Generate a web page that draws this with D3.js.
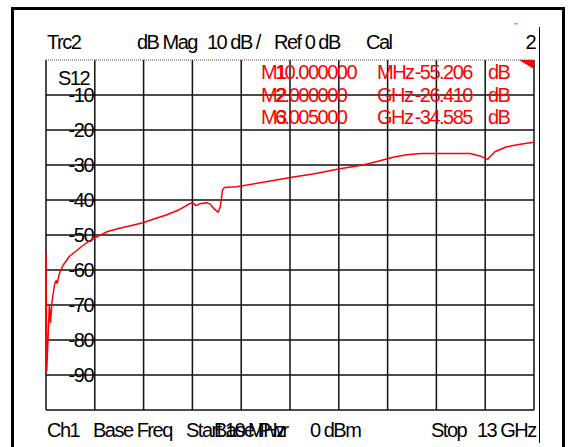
<!DOCTYPE html>
<html>
<head>
<meta charset="utf-8">
<script src="https://cdn.jsdelivr.net/npm/d3@7"></script>
<style>
  body { margin: 0; background: #fff; }
  svg text { font-family: "Liberation Sans", Arial, sans-serif; letter-spacing: -1.5px; }
</style>
</head>
<body>
<div id="chart"></div>
<script>
// trace S12
const freqGHz = [0.01, 0.03, 0.10, 0.13, 0.17, 0.24, 0.28, 0.31, 0.36, 0.46, 0.64, 0.82, 0.99,
  1.17, 1.40, 1.65, 1.97, 2.37, 2.59, 2.86, 3.21, 3.57, 3.84, 3.92, 4.00, 4.10, 4.28, 4.37,
  4.50, 4.59, 4.65, 4.71, 4.76, 5.08, 5.21, 5.79, 6.55, 7.12, 7.83, 8.45, 8.90, 9.25, 9.61,
  10.01, 10.45, 11.30, 11.56, 11.76, 11.96, 12.27, 12.63, 13.00];
const s12dB = [-55.1, -88.8, -70.0, -75.0, -69.0, -64.0, -63.0, -63.8, -61.2, -58.7, -56.0, -54.5, -53.0,
  -51.7, -50.3, -49.0, -48.1, -47.1, -46.5, -45.5, -44.3, -42.7, -41.0, -40.8, -41.6, -41.1, -40.8, -41.1,
  -42.7, -43.5, -41.9, -37.1, -36.4, -36.2, -36.0, -34.9, -33.5, -32.6, -31.1, -30.0, -28.8, -27.8, -27.1,
  -26.7, -26.7, -26.7, -27.4, -28.4, -26.2, -24.8, -24.1, -23.5];

const yTicks = [-10, -20, -30, -40, -50, -60, -70, -80, -90];
const xDivs = [0, 1, 2, 3, 4, 5, 6, 7, 8, 9, 10];

const markerNames = ['M1', 'M2', 'M3'];
const markerFreqs = ['10.000000', '2.000000', '6.005000'];
const markerUnits = ['MHz', 'GHz', 'GHz'];
const markerVals = ['-55.206', '-26.410', '-34.585'];

const svg = d3.select('#chart').append('svg')
    .attr('width', 571)
    .attr('height', 447);

const plotL = 46, plotR = 534, plotT = 60, plotB = 410;
const fs = 20;

const x = d3.scaleLinear().domain([0.01, 13]).range([plotL, plotR]);
const y = d3.scaleLinear().domain([-100, 0]).range([plotB, plotT]);
const xDiv = d3.scaleLinear().domain([0, 10]).range([plotL, plotR]);

// outer frame
svg.append('rect')
    .attr('x', 12.5).attr('y', 8.5)
    .attr('width', 551).attr('height', 460)
    .attr('fill', 'none')
    .attr('stroke', '#000')
    .attr('stroke-width', 3);

svg.append('line')
    .attr('x1', 539.5).attr('x2', 539.5)
    .attr('y1', 27).attr('y2', 443)
    .attr('stroke', '#000').attr('stroke-width', 1);

svg.append('rect')
    .attr('x', 514).attr('y', 23).attr('width', 4).attr('height', 1.5)
    .attr('fill', '#6bc4e8');

// grid
const grid = svg.append('g');
grid.selectAll('.vl').data(xDivs).enter().append('line')
    .attr('x1', d => xDiv(d)).attr('x2', d => xDiv(d))
    .attr('y1', plotT).attr('y2', plotB)
    .attr('stroke', '#111').attr('stroke-width', 1.5);

grid.selectAll('.hl').data(yTicks.concat([-100])).enter().append('line')
    .attr('x1', plotL).attr('x2', plotR)
    .attr('y1', d => y(d)).attr('y2', d => y(d))
    .attr('stroke', '#111').attr('stroke-width', 1.5);

// top line is dotted
grid.append('line')
    .attr('x1', plotL).attr('x2', plotR)
    .attr('y1', y(0)).attr('y2', y(0))
    .attr('stroke', '#555').attr('stroke-width', 1)
    .attr('stroke-dasharray', '1,1');

// y labels
svg.selectAll('.yl').data(yTicks).enter().append('text')
    .attr('x', 93)
    .attr('y', d => y(d) + 7)
    .attr('text-anchor', 'end')
    .attr('font-size', fs)
    .attr('fill', '#000')
    .text(d => d);

svg.append('text')
    .attr('x', 58).attr('y', 85)
    .attr('font-size', fs)
    .text('S12');

// header
const header = [['Trc2', 47], ['dB Mag', 137], ['10 dB /', 207], ['Ref 0 dB', 274], ['Cal', 366]];
svg.selectAll('.hd').data(header).enter().append('text')
    .attr('x', d => d[1]).attr('y', 49)
    .attr('font-size', fs)
    .text(d => d[0]);
svg.append('text')
    .attr('x', 535).attr('y', 49)
    .attr('text-anchor', 'end')
    .attr('font-size', fs)
    .text('2');

// footer
const footer = [['Ch1', 47], ['Base Freq', 93], ['Start 10 MHz', 186], ['Base Pwr', 214],
  ['0 dBm', 310], ['Stop', 431], ['13 GHz', 477]];
svg.selectAll('.ft').data(footer).enter().append('text')
    .attr('x', d => d[1]).attr('y', 437)
    .attr('font-size', fs)
    .text(d => d[0]);

// trace
const line = d3.line()
    .x((d, i) => x(freqGHz[i]))
    .y(d => y(d));

svg.append('path')
    .datum(s12dB)
    .attr('fill', 'none')
    .attr('stroke', '#ff0000')
    .attr('stroke-width', 1.5)
    .attr('stroke-linejoin', 'round')
    .attr('d', line);

// marker table
const red = '#ff0000';
markerNames.forEach((m, i) => {
    const ty = 79 + i * 22.5;
    svg.append('text').attr('x', 261).attr('y', ty).attr('font-size', fs).attr('fill', red).text(m);
    svg.append('text').attr('x', 275).attr('y', ty).attr('font-size', fs).attr('fill', red).text(markerFreqs[i]);
    svg.append('text').attr('x', 377).attr('y', ty).attr('font-size', fs).attr('fill', red).text(markerUnits[i]);
    svg.append('text').attr('x', 472).attr('y', ty).attr('text-anchor', 'end').attr('font-size', fs).attr('fill', red).text(markerVals[i]);
    svg.append('text').attr('x', 488).attr('y', ty).attr('font-size', fs).attr('fill', red).text('dB');
});

// active marker triangle
svg.append('path')
    .attr('d', d3.line()([[519, plotT], [plotR, plotT], [plotR, plotT + 9]]) + 'Z')
    .attr('fill', red);
</script>
</body>
</html>
